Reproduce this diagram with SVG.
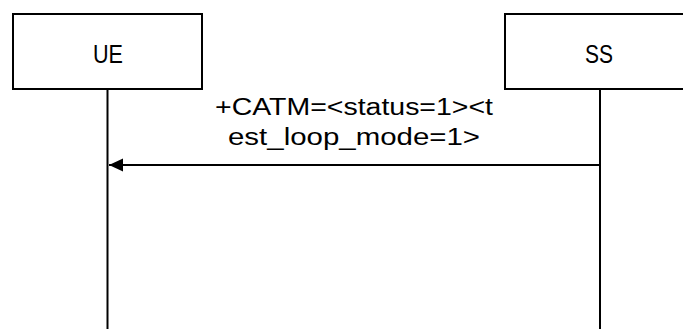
<svg xmlns="http://www.w3.org/2000/svg" width="683" height="329" viewBox="0 0 683 329">
<style>
.box{fill:#fff;stroke:#000;stroke-width:2}
.life{stroke:#000;stroke-width:2;fill:none}
.t{font-family:"Liberation Sans",Arial,sans-serif;font-size:23px;fill:#000;text-anchor:middle}
.n{font-size:25px}
</style>
<defs>
<marker id="ah" markerWidth="16" markerHeight="14" refX="14" refY="7" orient="auto" markerUnits="userSpaceOnUse">
<path d="M0,0.5 L14,7 L0,13.5 Z" fill="#000"/>
</marker>
</defs>
<rect width="683" height="329" fill="#fff"/>
<g id="UE">
<rect class="box" x="13" y="14" width="189" height="75"/>
<text class="t n" x="108" y="63" textLength="30" lengthAdjust="spacingAndGlyphs">UE</text>
</g>
<g id="SS">
<rect class="box" x="505" y="14" width="190" height="75"/>
<text class="t n" x="599" y="63" textLength="28" lengthAdjust="spacingAndGlyphs">SS</text>
</g>
<g id="connectors">
<line class="life" x1="107.5" y1="89" x2="107.5" y2="329"/>
<line class="life" x1="600" y1="89" x2="600" y2="329"/>
<line class="life" x1="600" y1="165" x2="109" y2="165" marker-end="url(#ah)"/>
<text class="t" x="354" y="115" textLength="278" lengthAdjust="spacingAndGlyphs">+CATM=&lt;status=1&gt;&lt;t</text>
<text class="t" x="354" y="145" textLength="252" lengthAdjust="spacingAndGlyphs">est_loop_mode=1&gt;</text>
</g>
</svg>
